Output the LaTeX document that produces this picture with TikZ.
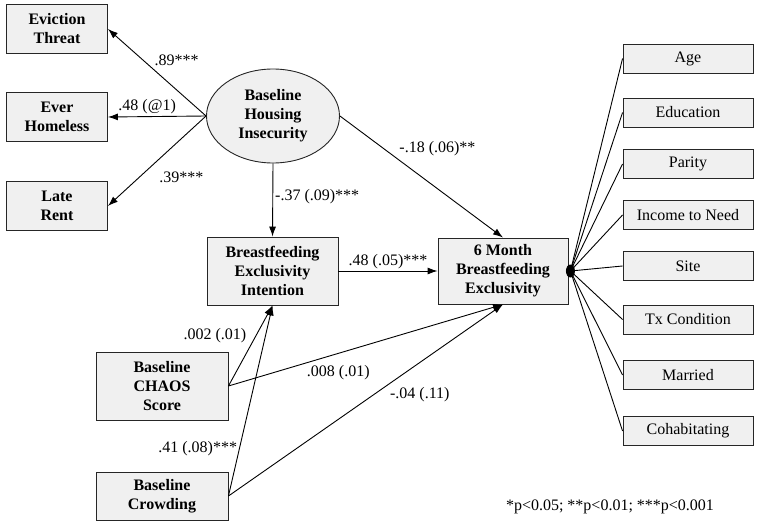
\documentclass[tikz,border=0pt]{standalone}
\usepackage{fontspec}
\setmainfont{Liberation Serif}
\usetikzlibrary{arrows.meta, shapes.geometric}

\begin{document}
\begin{tikzpicture}[x=1pt, y=-1pt, line width=0.9pt,
      every node/.append style={font=\fontsize{16}{19}\selectfont},
      var/.style={draw=black!85, fill=black!6, align=center, inner sep=0pt,
        font=\bfseries\fontsize{16}{19}\selectfont},
      covar/.style={draw=black!85, fill=black!6, minimum width=130pt, minimum height=29pt, inner sep=0pt},
      path/.style={-{Latex[length=10pt, width=7pt]}},
      coef/.style={inner sep=2pt}]
    \useasboundingbox (0,0) rectangle (761,524);

    \node (evict) [var, minimum width=101pt, minimum height=49pt] at (57,29) {Eviction\\Threat};
    \node (homeless) [var, minimum width=101pt, minimum height=49pt] at (57,117) {Ever\\Homeless};
    \node (late) [var, minimum width=101pt, minimum height=49pt] at (57,206) {Late\\Rent};
    \node (bhi) [var, ellipse, minimum width=133pt, minimum height=94pt] at (273,116) {Baseline\\Housing\\Insecurity};
    \node (intent) [var, minimum width=131pt, minimum height=68pt] at (272.5,271) {Breastfeeding\\Exclusivity\\Intention};
    \node (sixmo) [var, minimum width=130pt, minimum height=66pt] at (503,271) {6 Month\\Breastfeeding\\Exclusivity};
    \node (chaos) [var, minimum width=132pt, minimum height=68pt] at (162,386) {Baseline\\CHAOS\\Score};
    \node (crowd) [var, minimum width=132pt, minimum height=48pt] at (162,496) {Baseline\\Crowding};

    \node (age) [covar] at (688,58.5) {Age};
    \node (educ) [covar] at (688,112.5) {Education};
    \node (parity) [covar] at (688,164) {Parity};
    \node (income) [covar] at (688,215) {Income to Need};
    \node (site) [covar] at (688,266) {Site};
    \node (tx) [covar] at (688,319.5) {Tx Condition};
    \node (married) [covar] at (688,375) {Married};
    \node (cohab) [covar] at (688,431) {Cohabitating};
    \node (hub) [ellipse, fill=black, inner sep=0pt, minimum width=9pt, minimum height=13pt] at ([xshift=2pt]sixmo.east) {};

    \draw[path] (bhi.west) -- node[coef, pos=0.55, above right] {.89***} (evict.east);
    \draw[path] (bhi.west) -- node[coef, pos=0.6, above] {.48 (@1)} (homeless.east);
    \draw[path] (bhi.west) -- node[coef, pos=0.5, below right, yshift=-8pt] {.39***} (late.east);
    \draw[path] (bhi.south) -- node[coef, pos=0.45, right] {-.37 (.09)***} (intent.north);
    \draw[path] (bhi.east) -- node[coef, pos=0.35, above right] {-.18 (.06)**} (sixmo.north);
    \draw[path] (intent.east) -- node[coef, pos=0.5, above] {.48 (.05)***} (sixmo.west);
    \draw[path] (chaos.east) -- node[coef, pos=0.62, left, xshift=-7pt] {.002 (.01)} (intent.south);
    \draw[path] (chaos.east) -- node[coef, pos=0.4, below, yshift=-10pt] {.008 (.01)} (sixmo.south);
    \draw[path] (crowd.east) -- node[coef, pos=0.25, left] {.41 (.08)***} (intent.south);
    \draw[path] (crowd.east) -- node[coef, pos=0.58, below right] {-.04 (.11)} (sixmo.south);

    \draw (hub.center) -- (age.west);
    \draw (hub.center) -- (educ.west);
    \draw (hub.center) -- (parity.west);
    \draw (hub.center) -- (income.west);
    \draw (hub.center) -- (site.west);
    \draw (hub.center) -- (tx.west);
    \draw (hub.center) -- (married.west);
    \draw (hub.center) -- (cohab.west);

    \node (note) at (610,507) {*p<0.05; **p<0.01; ***p<0.001};
  \end{tikzpicture}
\end{document}
